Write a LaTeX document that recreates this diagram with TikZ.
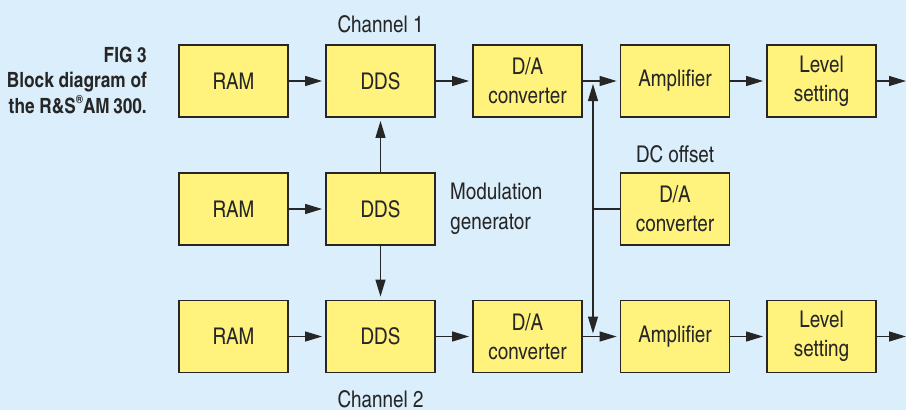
\documentclass[tikz,border=0pt]{standalone}
\usepackage{fontspec}
\setmainfont{texgyreheroscn-regular.otf}[BoldFont=texgyreheroscn-bold.otf]
\usetikzlibrary{arrows.meta}
\definecolor{bg}{HTML}{DBEEFB}
\definecolor{boxfill}{HTML}{FFF27D}
\definecolor{ink}{HTML}{262626}
\begin{document}
\begin{tikzpicture}[x=1pt,y=-1pt,
  blk/.style={draw=ink, line width=1.8pt, fill=boxfill, minimum width=109pt,
    minimum height=72pt, inner sep=0pt, align=center,
    font=\fontsize{23}{29}\selectfont, text=ink},
  tip/.tip={Triangle[length=17pt,width=10pt]},
  conn/.style={draw=ink, line width=1.2pt, -tip, shorten >=3pt},
  lbl/.style={text=ink, font=\fontsize{23}{30}\selectfont, inner sep=0pt},
  capt/.style={text=ink, font=\bfseries\fontsize{21}{26}\selectfont, inner sep=0pt, anchor=base east}]
\fill[bg] (0,0) rectangle (906,410);
\useasboundingbox (0,0) rectangle (906,410);

% caption
\node[capt] (cap1) at (147,62) {FIG 3};
\node[capt] (cap2) at (147,87) {Block diagram of};
\node[capt] (cap3) at (147,113) {the R\&S\raisebox{0.45em}{\fontsize{12}{12}\selectfont ®}AM\,300.};

% row 1
\node[blk] (ram1) at (233.5,81) {RAM};
\node[blk] (dds1) at (380.5,81) {DDS};
\node[blk] (da1)  at (527.5,81) {D/A\\converter};
\node[blk] (amp1) at (675,81) {Amplifier};
\node[blk] (lvl1) at (821.5,81) {Level\\setting};
% row 2
\node[blk] (ram2) at (233.5,209) {RAM};
\node[blk] (dds2) at (380.5,209) {DDS};
\node[blk] (dadc) at (675,209) {D/A\\converter};
% row 3
\node[blk] (ram3) at (233.5,336.5) {RAM};
\node[blk] (dds3) at (380.5,336.5) {DDS};
\node[blk] (da3)  at (527.5,336.5) {D/A\\converter};
\node[blk] (amp3) at (675,336.5) {Amplifier};
\node[blk] (lvl3) at (821.5,336.5) {Level\\setting};

% labels
\node[lbl, anchor=base] (ch1) at (380.5,32) {Channel 1};
\node[lbl, anchor=base] (ch2) at (380.5,407) {Channel 2};
\node[lbl, anchor=west, align=left] (modgen) at (450,209) {Modulation\\generator};
\node[lbl, anchor=base] (dcoff) at (675,162) {DC offset};

% coordinates
\coordinate (out1) at (906,81);
\coordinate (out3) at (906,336.5);
\coordinate (jt) at (593,81);
\coordinate (jb) at (593,336.5);

% connectors row 1
\draw[conn] (ram1) -- (dds1);
\draw[conn] (dds1) -- (da1);
\draw[conn] (da1) -- (amp1);
\draw[conn] (amp1) -- (lvl1);
\draw[conn, shorten >=0pt] (lvl1.east) -- (out1);
% row 2
\draw[conn] (ram2) -- (dds2);
\draw[conn] (dds2.north) -- (dds1.south);
\draw[conn] (dds2.south) -- (dds3.north);
% row 3
\draw[conn] (ram3) -- (dds3);
\draw[conn] (dds3) -- (da3);
\draw[conn] (da3) -- (amp3);
\draw[conn] (amp3) -- (lvl3);
\draw[conn, shorten >=0pt] (lvl3.east) -- (out3);
% DC offset bus
\draw[draw=ink, line width=1.2pt, tip-tip, shorten <=3pt, shorten >=3pt] (jb) -- (jt);
\draw[draw=ink, line width=1.2pt] (dadc.west) -- (dadc.west -| jt);
\end{tikzpicture}
\end{document}
